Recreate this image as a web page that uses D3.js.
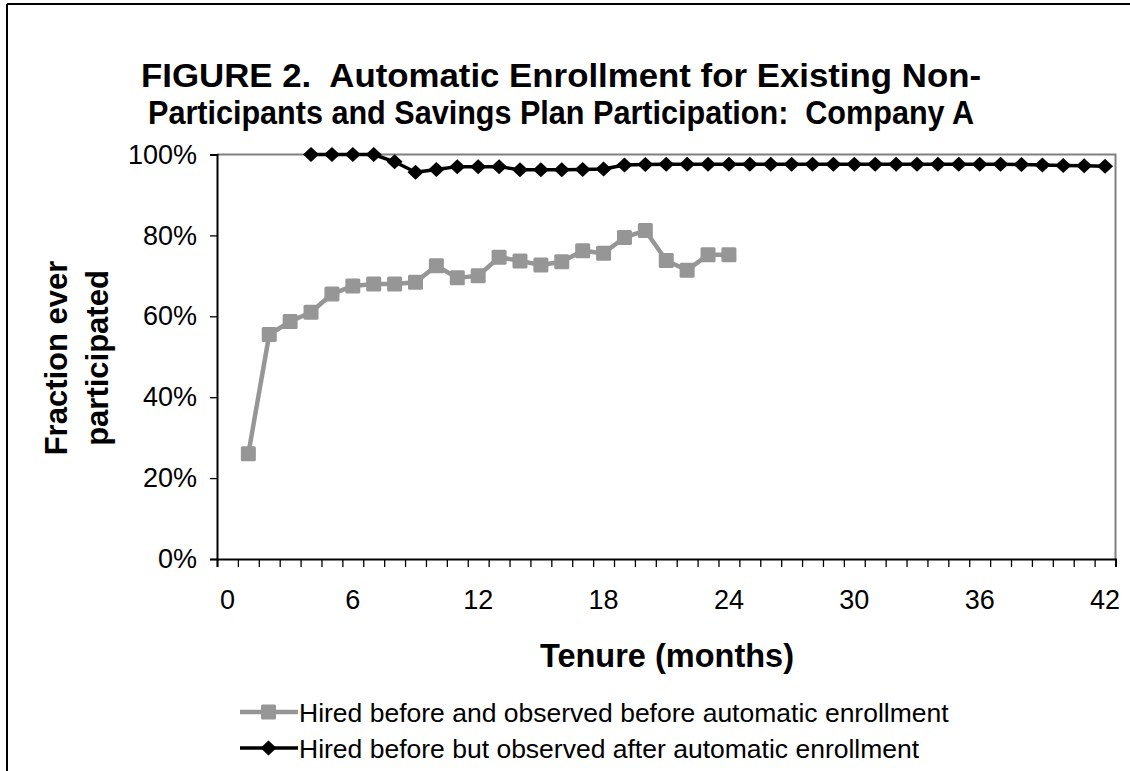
<!DOCTYPE html>
<html>
<head>
<meta charset="utf-8">
<script src="https://cdn.jsdelivr.net/npm/d3@7"></script>
<style>
  html, body { margin: 0; padding: 0; background: #fff; }
  svg { display: block; font-family: "Liberation Sans", Arial, sans-serif; }
  .pre { white-space: pre; }
</style>
</head>
<body>
<svg id="chart" width="1130" height="771"></svg>
<script>
// ---- data ----
const categories = d3.range(0, 43); // tenure months 0..42 (category axis)
const xTickLabels = [0, 6, 12, 18, 24, 30, 36, 42];
const yTickValues = [0, 0.2, 0.4, 0.6, 0.8, 1.0];

const beforeMonths = d3.range(1, 25);
const beforeValues = [0.26, 0.555, 0.587, 0.61, 0.655, 0.675, 0.68, 0.68, 0.684, 0.725,
                      0.695, 0.70, 0.746, 0.737, 0.727, 0.735, 0.762, 0.756, 0.795, 0.812,
                      0.738, 0.714, 0.752, 0.752];

const afterMonths = d3.range(4, 43);
const afterValues = [1.0, 1.0, 1.0, 1.0, 0.982, 0.956, 0.963, 0.970, 0.970, 0.970,
                     0.962, 0.962, 0.962, 0.963, 0.964, 0.974, 0.975, 0.976, 0.976, 0.976,
                     0.976, 0.976, 0.976, 0.976, 0.976, 0.976, 0.976, 0.976, 0.976, 0.976,
                     0.976, 0.976, 0.976, 0.976, 0.975, 0.974, 0.973, 0.972, 0.971];

const seriesNames = ["Hired before and observed before automatic enrollment",
                     "Hired before but observed after automatic enrollment"];
const seriesColors = ["#969696", "#000000"];

const titleLines = ["FIGURE 2.  Automatic Enrollment for Existing Non-",
                    "Participants and Savings Plan Participation:  Company A"];
const titleWidths = [840, 826];
const yTitleLines = ["Fraction ever", "participated"];
const xTitle = "Tenure (months)";

// ---- layout ----
const svg = d3.select("#chart");
const L = 217, R = 1115.5, T = 154.5, B = 559;

const x = d3.scaleBand().domain(categories).range([L, R]).padding(0);
const xc = m => x(m) + x.bandwidth() / 2;
const xb = d3.scaleLinear().domain([0, categories.length]).range([L, R]);
const y = d3.scaleLinear().domain([0, 1]).range([B, T]);

// outer frame (top + left)
svg.append("line").attr("x1", 7).attr("x2", 1130).attr("y1", 4).attr("y2", 4)
  .attr("stroke", "#000").attr("stroke-width", 2);
svg.append("line").attr("x1", 7).attr("x2", 7).attr("y1", 4).attr("y2", 771)
  .attr("stroke", "#000").attr("stroke-width", 2);

// title
svg.append("g").selectAll("text").data(titleLines).join("text")
  .attr("class", "pre")
  .attr("x", 561).attr("y", (d, i) => 87 + i * 37)
  .attr("text-anchor", "middle")
  .attr("font-weight", "bold").attr("font-size", 34)
  .attr("textLength", (d, i) => titleWidths[i])
  .attr("lengthAdjust", "spacingAndGlyphs")
  .text(d => d);

// plot frame (gray top and right)
svg.append("path").attr("d", `M${L},${T}H${R}V${B}`)
  .attr("fill", "none").attr("stroke", "#808080").attr("stroke-width", 2);

// y axis
const yAxis = svg.append("g").attr("transform", `translate(${L},0)`)
  .call(d3.axisLeft(y).tickValues(yTickValues).tickFormat(d3.format(".0%"))
    .tickSize(7).tickPadding(13));
yAxis.select(".domain").attr("stroke", "#000").attr("stroke-width", 2);
yAxis.selectAll(".tick line").attr("stroke", "#000").attr("stroke-width", 1.3);
yAxis.selectAll(".tick text").attr("font-size", 27).attr("fill", "#000")
  .attr("font-family", "Liberation Sans, Arial, sans-serif");

// x axis tick marks at category boundaries
const xTicks = svg.append("g").attr("transform", `translate(0,${B})`)
  .call(d3.axisBottom(xb).tickValues(d3.range(0, categories.length + 1))
    .tickSize(8).tickFormat(""));
xTicks.select(".domain").attr("stroke", "#000").attr("stroke-width", 2);
xTicks.selectAll(".tick line").attr("stroke", "#000").attr("stroke-width", 1.3);

// x axis labels at category centres
const xLabels = svg.append("g").attr("transform", `translate(0,${B})`)
  .call(d3.axisBottom(x).tickValues(xTickLabels).tickSize(0).tickPadding(31));
xLabels.select(".domain").remove();
xLabels.selectAll(".tick text").attr("font-size", 27).attr("fill", "#000")
  .attr("font-family", "Liberation Sans, Arial, sans-serif");

// axis titles
svg.append("text").attr("x", 667).attr("y", 667).attr("text-anchor", "middle")
  .attr("font-weight", "bold").attr("font-size", 32.5).text(xTitle);

const yt = svg.append("text").attr("transform", "translate(67,358) rotate(-90)")
  .attr("text-anchor", "middle").attr("font-weight", "bold").attr("font-size", 31);
yt.selectAll("tspan").data(yTitleLines).join("tspan")
  .attr("x", 0).attr("y", (d, i) => i * 41).text(d => d);

// series lines
const line = d3.line().x(d => xc(d[0])).y(d => y(d[1]));
const beforeData = beforeMonths.map((m, i) => [m, beforeValues[i]]);
const afterData = afterMonths.map((m, i) => [m, afterValues[i]]);

svg.append("path").datum(beforeData).attr("d", line)
  .attr("fill", "none").attr("stroke", seriesColors[0]).attr("stroke-width", 4.5)
  .attr("stroke-linejoin", "round");
svg.append("path").datum(afterData).attr("d", line)
  .attr("fill", "none").attr("stroke", seriesColors[1]).attr("stroke-width", 3.5)
  .attr("stroke-linejoin", "round");

const sq = 15;
svg.append("g").selectAll("rect").data(beforeData).join("rect")
  .attr("x", d => xc(d[0]) - sq / 2).attr("y", d => y(d[1]) - sq / 2)
  .attr("width", sq).attr("height", sq).attr("rx", 1.5)
  .attr("fill", seriesColors[0]);

const diamond = (cx, cy) => `M${cx},${cy - 7.5}L${cx + 8},${cy}L${cx},${cy + 7.5}L${cx - 8},${cy}Z`;
svg.append("g").selectAll("path").data(afterData).join("path")
  .attr("d", d => diamond(xc(d[0]), y(d[1])))
  .attr("fill", seriesColors[1]);

// legend
const legY = [712, 748];
const lg = svg.append("g");
lg.append("line").attr("x1", 240).attr("x2", 298).attr("y1", legY[0]).attr("y2", legY[0])
  .attr("stroke", seriesColors[0]).attr("stroke-width", 4.5);
lg.append("rect").attr("x", 268.5 - sq / 2).attr("y", legY[0] - sq / 2)
  .attr("width", sq).attr("height", sq).attr("rx", 1.5).attr("fill", seriesColors[0]);
lg.append("line").attr("x1", 240).attr("x2", 298).attr("y1", legY[1]).attr("y2", legY[1])
  .attr("stroke", seriesColors[1]).attr("stroke-width", 3.5);
lg.append("path").attr("d", diamond(268.5, legY[1])).attr("fill", seriesColors[1]);
lg.selectAll("text").data(seriesNames).join("text")
  .attr("x", 299).attr("y", (d, i) => legY[i] + 9.5)
  .attr("font-size", 26.5).attr("fill", "#000").text(d => d);
</script>
</body>
</html>
